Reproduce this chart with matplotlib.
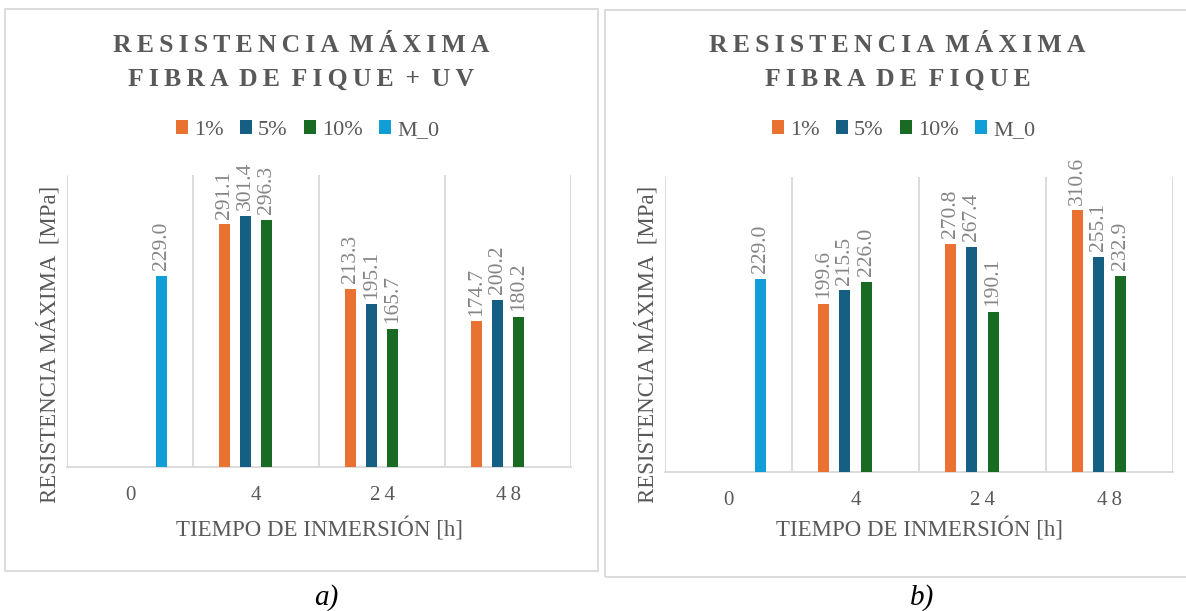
import numpy as np
import matplotlib
matplotlib.use('Agg')
from matplotlib import pyplot as plt
from matplotlib.patches import Rectangle, Patch

# Datos: resistencia maxima [MPa] por tiempo de inmersion
categorias = ['0', '4', '24', '48']
series = ['1%', '5%', '10%', 'M_0']
uv_1 = [np.nan, 291.1, 213.3, 174.7]
uv_5 = [np.nan, 301.4, 195.1, 200.2]
uv_10 = [np.nan, 296.3, 165.7, 180.2]
uv_m0 = [229.0, np.nan, np.nan, np.nan]
sin_1 = [np.nan, 199.6, 270.8, 310.6]
sin_5 = [np.nan, 215.5, 267.4, 255.1]
sin_10 = [np.nan, 226.0, 190.1, 232.9]
sin_m0 = [229.0, np.nan, np.nan, np.nan]

colores = ['#E97132', '#156082', '#196B24', '#0F9ED5']
gris = '#595959'
gris_claro = '#D9D9D9'
SERIF = ['Liberation Serif', 'DejaVu Serif']

W, H = 1186, 611
fig = plt.figure(figsize=(W / 100, H / 100), dpi=100)


def fx(px):
    return px / W


def fy(py):
    return 1 - py / H


def espaciado(txt):
    # separa letras con espacio fino para imitar el tracking del titulo
    return ' \u2009'.join('\u2009'.join(p) for p in txt.split(' '))


def panel(caja, ejes, titulo, datos, letra):
    x0, y0, x1, y1 = caja
    fig.patches.append(Rectangle((fx(x0), fy(y1)), fx(x1 - x0), (y1 - y0) / H,
                                 transform=fig.transFigure, fill=False,
                                 edgecolor=gris_claro, lw=1.3))
    cx = (x0 + x1) / 2
    fig.text(fx(cx), fy(45), espaciado(titulo[0]), ha='center', va='center',
             fontsize=18.5, fontweight='bold', color=gris, family=SERIF)
    fig.text(fx(cx), fy(79), espaciado(titulo[1]), ha='center', va='center',
             fontsize=18.5, fontweight='bold', color=gris, family=SERIF)

    l, t, r, b = ejes
    ax = fig.add_axes([fx(l), fy(b), fx(r - l), (b - t) / H])
    x = np.arange(len(categorias))
    paso = 1 / 6
    ancho = 0.087
    for i, (vals, c) in enumerate(zip(datos, colores)):
        pos = x + (i - 1.5) * paso
        ax.bar(pos, vals, width=ancho, color=c, zorder=3)
        for xp, v in zip(pos, vals):
            if np.isnan(v):
                continue
            ax.annotate(f'{v:.1f}', (xp, v), xytext=(0, 4),
                        textcoords='offset points', rotation=90,
                        ha='center', va='bottom', fontsize=15.5,
                        color='#858585', family=SERIF)
    ax.set_xlim(-0.5, len(categorias) - 0.5)
    ax.set_ylim(0, 350)
    for s in np.arange(-0.5, len(categorias), 1.0):
        ax.axvline(s, color=gris_claro, lw=1.3, zorder=1)
    for sp in ['top', 'right', 'left']:
        ax.spines[sp].set_visible(False)
    ax.spines['bottom'].set_color(gris_claro)
    ax.spines['bottom'].set_linewidth(1.3)
    ax.set_yticks([])
    ax.set_xticks(x)
    ax.set_xticklabels(['\u2009'.join(c) for c in categorias],
                       fontsize=15, color=gris, family=SERIF)
    ax.tick_params(axis='x', length=0, pad=14)

    fig.text(fx((l + r) / 2), fy(530), 'TIEMPO DE INMERSIÓN [h]',
             ha='center', va='center', fontsize=16.5, color=gris, family=SERIF)
    fig.text(fx(l - 18), fy(344), 'RESISTENCIA MÁXIMA  [MPa]', rotation=90,
             ha='center', va='center', fontsize=16.5, color=gris, family=SERIF)

    manijas = [Patch(facecolor=c) for c in colores]
    fig.legend(manijas, series, loc='center', bbox_to_anchor=(fx(cx + 6), fy(130)),
               ncol=4, frameon=False, handlelength=0.55, handleheight=0.55,
               handletextpad=0.25, columnspacing=0.75,
               prop={'family': SERIF, 'size': 16}, labelcolor=gris)

    fig.text(fx((x0 + x1) / 2 + 25), fy(598), letra, ha='center', va='center',
             fontsize=21, style='italic', color='black', family=SERIF)
    return ax


panel((5, 9, 598, 571), (67, 175, 571, 467),
      ('RESISTENCIA MÁXIMA', 'FIBRA DE FIQUE + UV'),
      [uv_1, uv_5, uv_10, uv_m0], 'a)')
panel((605, 10, 1190, 577), (665, 177, 1173, 472),
      ('RESISTENCIA MÁXIMA', 'FIBRA DE FIQUE'),
      [sin_1, sin_5, sin_10, sin_m0], 'b)')

fig.savefig('out.png', dpi=100, facecolor='white')
